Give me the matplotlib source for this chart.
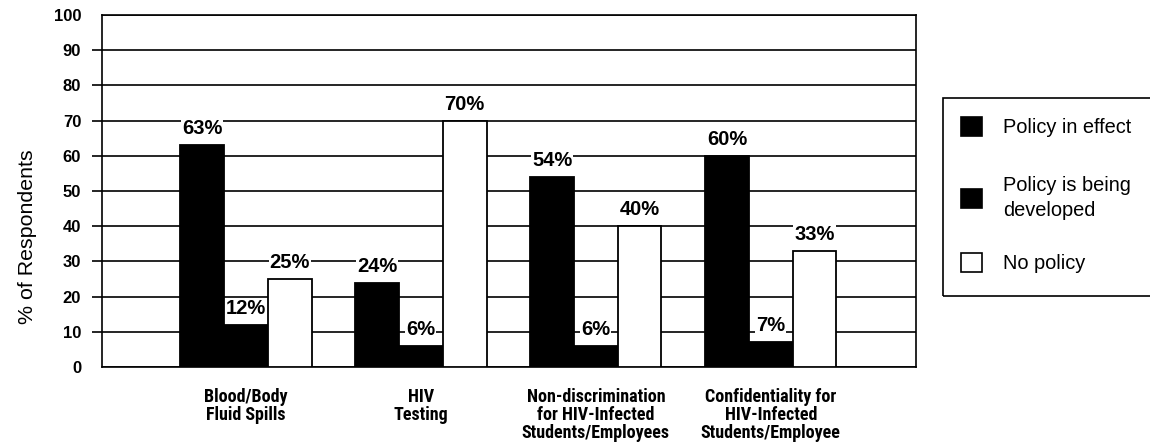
import matplotlib
matplotlib.use("Agg")
import matplotlib.pyplot as plt
import matplotlib.font_manager as fm
from matplotlib.font_manager import FontProperties
from matplotlib.textpath import TextPath
from matplotlib.patches import Rectangle, Patch
import numpy as np

categories = ["Blood/Body\nFluid Spills", "HIV\nTesting",
              "Non-discrimination\nfor HIV-Infected\nStudents/Employees",
              "Confidentiality for\nHIV-Infected\nStudents/Employee"]
series_names = ["Policy in effect", "Policy is being\ndeveloped", "No policy"]
in_effect = [63, 24, 54, 60]
being_developed = [12, 6, 6, 7]
no_policy = [25, 70, 40, 33]
yticks = list(range(0, 101, 10))

series = [in_effect, being_developed, no_policy]
face = ["black", "black", "white"]
DPI = 100


def find_condensed():
    cands = [("Liberation Sans Narrow", "normal"), ("Roboto Condensed", "normal"),
             ("Open Sans Condensed", "normal"), ("DejaVu Sans", "condensed"),
             ("Noto Sans", "condensed"), ("Open Sans", "condensed"),
             ("Roboto", "condensed"), ("Noto Sans", "semi-condensed"),
             ("Open Sans", "semi-condensed")]
    for name, st in cands:
        prop = FontProperties(family=name, stretch=st, weight="bold")
        try:
            path = fm.findfont(prop, fallback_to_default=False)
        except Exception:
            continue
        low = path.lower()
        if "narrow" in low or "condensed" in low:
            return FontProperties(fname=path)
    return FontProperties(family="Liberation Sans", weight="bold")


def fit(prop, text, target_px):
    w = TextPath((0, 0), text, size=10, prop=prop).get_extents().width
    return 10 * target_px / (w * DPI / 72)


cond_bold = find_condensed()
sans_bold = FontProperties(family="Liberation Sans", weight="bold")
sans = FontProperties(family="Liberation Sans")

cat_size = fit(cond_bold, "Blood/Body", 75) * 1.1
tick_size = fit(sans_bold, "100", 26)
val_size = fit(sans_bold, "63%", 39)
leg_size = fit(sans, "Policy in effect", 127)
ylab_size = fit(sans, "% of Respondents", 173)

W, H = 1150, 446
fig = plt.figure(figsize=(W / DPI, H / DPI), dpi=DPI)
ax = fig.add_axes([102 / W, 1 - 367 / H, (916 - 102) / W, (367 - 15) / H])

x = np.arange(len(categories))
bw = 0.25
offsets = [-bw, 0, bw]
vprop = sans_bold.copy()
vprop.set_size(val_size)
for vals, off, fc in zip(series, offsets, face):
    bars = ax.bar(x + off, vals, width=bw, color=fc, edgecolor="black",
                  linewidth=1.3, zorder=3)
    for b, v in zip(bars, vals):
        ax.annotate(f"{v}%", (b.get_x() + b.get_width() / 2, v),
                    xytext=(0, 5), textcoords="offset points",
                    ha="center", va="bottom", fontproperties=vprop, zorder=4,
                    bbox=dict(boxstyle="square,pad=0.05", fc="white", ec="none"))

ax.set_xlim(-0.823, 3.83)
ax.set_ylim(0, 100)
ax.set_yticks(yticks)
tprop = sans_bold.copy()
tprop.set_size(tick_size)
ax.set_yticklabels([str(t) for t in yticks], fontproperties=tprop)
ax.yaxis.grid(True, color="black", linewidth=1.2, zorder=0)
ax.set_axisbelow(True)
ax.tick_params(axis="y", length=7, width=1.2, pad=8, direction="out")
ax.yaxis.get_major_ticks()[0].tick1line.set_visible(False)
ax.yaxis.get_major_ticks()[-1].tick1line.set_visible(False)
ax.set_xticks(x)
cprop = cond_bold.copy()
cprop.set_size(cat_size)
cprop.set_weight("bold")
ax.set_xticklabels(categories, fontproperties=cprop, linespacing=1.0)
ax.tick_params(axis="x", length=0, pad=15)
for s in ax.spines.values():
    s.set_linewidth(1.2)
    s.set_color("black")

lprop = sans.copy()
lprop.set_size(ylab_size)
ax.set_ylabel("% of Respondents", fontproperties=lprop, va="center")
ax.yaxis.set_label_coords((27.5 - 102) / 814, (367 - 237) / 352)

handles = [Patch(facecolor=fc, edgecolor="black", linewidth=1.2) for fc in face]
gprop = sans.copy()
gprop.set_size(leg_size)
hl = 21 / (leg_size * DPI / 72)
row_centers = [127, 198, 263]
for hnd, name, yc in zip(handles, series_names, row_centers):
    lg = fig.legend([hnd], [name], loc="center left",
                    bbox_to_anchor=(951 / W, 1 - yc / H), frameon=False,
                    borderpad=0, handlelength=hl, handleheight=hl,
                    handletextpad=hl, prop=gprop)
    for t in lg.get_texts():
        t.set_linespacing(1.35)
fig.add_artist(Rectangle((943 / W, 1 - 296 / H), 0.3, (296 - 98) / H,
                         transform=fig.transFigure, fill=False,
                         edgecolor="black", linewidth=1.2))

fig.savefig("out.png", dpi=DPI)
